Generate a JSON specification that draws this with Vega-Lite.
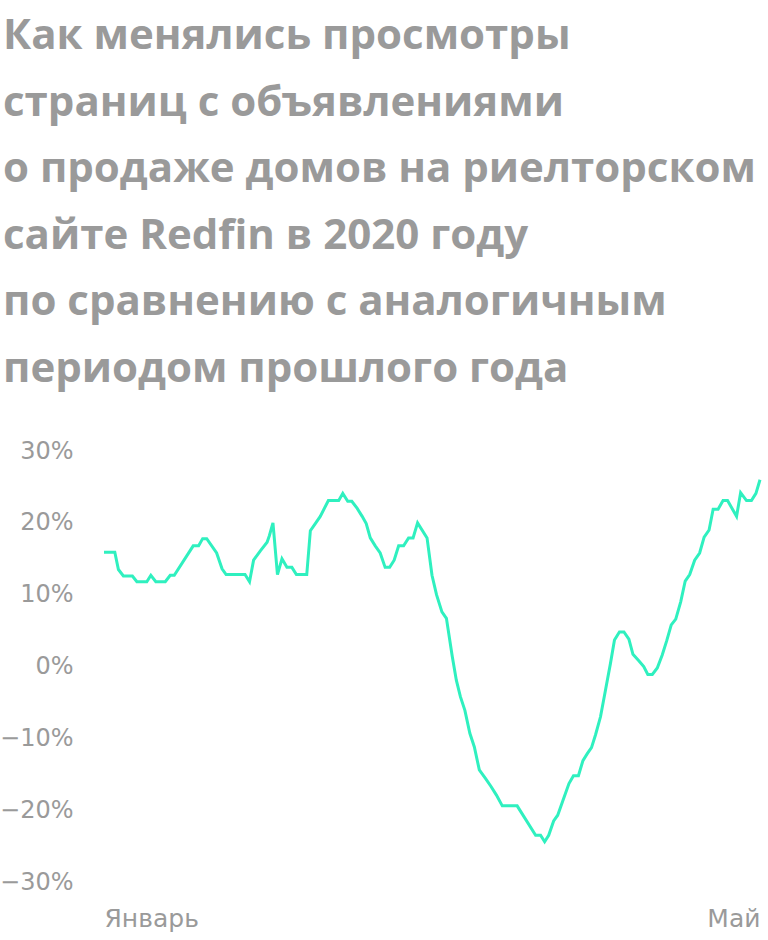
{
  "$schema": "https://vega.github.io/schema/vega-lite/v6.json",
  "autosize": {"type": "none"},
  "width": 656,
  "height": 431,
  "padding": {"left": 104, "top": 451, "right": 8, "bottom": 58},
  "background": "white",
  "config": {"view": {"stroke": null}, "font": "Open Sans"},
  "title": {
    "text": ["Как менялись просмотры", "страниц с объявлениями", "о продаже домов на риелторском", "сайте Redfin в 2020 году", "по сравнению с аналогичным", "периодом прошлого года"],
    "anchor": "start",
    "frame": "group",
    "dx": -101,
    "offset": 48,
    "lineHeight": 66.6,
    "fontSize": 42,
    "fontWeight": "bold",
    "font": "Open Sans",
    "color": "#9a9a9a"
  },
  "data": {"values": [
    {"day": 0.0, "value": 15.9},
    {"day": 2.4, "value": 15.9},
    {"day": 3.2, "value": 13.5},
    {"day": 4.3, "value": 12.6},
    {"day": 6.3, "value": 12.6},
    {"day": 7.3, "value": 11.8},
    {"day": 9.5, "value": 11.8},
    {"day": 10.4, "value": 12.7},
    {"day": 11.5, "value": 11.8},
    {"day": 13.6, "value": 11.8},
    {"day": 14.7, "value": 12.7},
    {"day": 15.6, "value": 12.7},
    {"day": 19.8, "value": 16.8},
    {"day": 21.0, "value": 16.8},
    {"day": 21.9, "value": 17.8},
    {"day": 22.8, "value": 17.8},
    {"day": 25.0, "value": 15.8},
    {"day": 26.2, "value": 13.6},
    {"day": 27.1, "value": 12.8},
    {"day": 31.3, "value": 12.8},
    {"day": 32.3, "value": 11.8},
    {"day": 33.2, "value": 14.8},
    {"day": 34.7, "value": 16.1},
    {"day": 36.2, "value": 17.3},
    {"day": 36.7, "value": 18.2},
    {"day": 37.5, "value": 20.0},
    {"day": 38.5, "value": 12.8},
    {"day": 39.5, "value": 15.0},
    {"day": 40.6, "value": 13.8},
    {"day": 41.7, "value": 13.8},
    {"day": 42.7, "value": 12.8},
    {"day": 45.0, "value": 12.8},
    {"day": 45.8, "value": 18.9},
    {"day": 46.9, "value": 19.9},
    {"day": 48.0, "value": 20.9},
    {"day": 49.8, "value": 23.1},
    {"day": 52.1, "value": 23.1},
    {"day": 53.0, "value": 24.1},
    {"day": 54.1, "value": 23.0},
    {"day": 55.0, "value": 23.0},
    {"day": 56.2, "value": 22.0},
    {"day": 57.3, "value": 20.9},
    {"day": 58.2, "value": 19.9},
    {"day": 59.1, "value": 17.9},
    {"day": 60.2, "value": 16.8},
    {"day": 61.3, "value": 15.8},
    {"day": 62.4, "value": 13.8},
    {"day": 63.4, "value": 13.8},
    {"day": 64.4, "value": 14.8},
    {"day": 65.4, "value": 16.8},
    {"day": 66.5, "value": 16.8},
    {"day": 67.6, "value": 17.9},
    {"day": 68.6, "value": 17.9},
    {"day": 69.6, "value": 20.0},
    {"day": 71.7, "value": 17.9},
    {"day": 72.8, "value": 12.7},
    {"day": 73.8, "value": 10.0},
    {"day": 75.0, "value": 7.6},
    {"day": 76.0, "value": 6.7},
    {"day": 77.3, "value": 1.4},
    {"day": 78.2, "value": -1.9},
    {"day": 79.1, "value": -4.2},
    {"day": 80.1, "value": -6.1},
    {"day": 81.2, "value": -9.3},
    {"day": 82.2, "value": -11.2},
    {"day": 83.3, "value": -14.4},
    {"day": 84.7, "value": -15.6},
    {"day": 85.9, "value": -16.7},
    {"day": 87.1, "value": -17.9},
    {"day": 88.4, "value": -19.4},
    {"day": 91.7, "value": -19.4},
    {"day": 95.8, "value": -23.5},
    {"day": 96.9, "value": -23.5},
    {"day": 97.8, "value": -24.4},
    {"day": 98.7, "value": -23.5},
    {"day": 99.8, "value": -21.5},
    {"day": 100.7, "value": -20.7},
    {"day": 101.9, "value": -18.6},
    {"day": 103.2, "value": -16.3},
    {"day": 104.2, "value": -15.2},
    {"day": 105.3, "value": -15.2},
    {"day": 106.3, "value": -13.1},
    {"day": 107.3, "value": -12.1},
    {"day": 108.2, "value": -11.3},
    {"day": 109.1, "value": -9.5},
    {"day": 110.2, "value": -7.0},
    {"day": 111.3, "value": -3.3},
    {"day": 112.4, "value": 0.4},
    {"day": 113.3, "value": 3.7},
    {"day": 114.4, "value": 4.8},
    {"day": 115.4, "value": 4.8},
    {"day": 116.5, "value": 3.8},
    {"day": 117.4, "value": 1.7},
    {"day": 118.7, "value": 0.8},
    {"day": 119.8, "value": 0.0},
    {"day": 120.7, "value": -1.1},
    {"day": 121.7, "value": -1.1},
    {"day": 122.8, "value": -0.2},
    {"day": 123.9, "value": 1.6},
    {"day": 124.9, "value": 3.6},
    {"day": 125.9, "value": 5.8},
    {"day": 126.9, "value": 6.6},
    {"day": 128.0, "value": 9.0},
    {"day": 129.0, "value": 11.9},
    {"day": 130.0, "value": 12.8},
    {"day": 131.1, "value": 14.8},
    {"day": 132.2, "value": 15.8},
    {"day": 133.2, "value": 18.0},
    {"day": 134.3, "value": 19.0},
    {"day": 135.2, "value": 21.9},
    {"day": 136.3, "value": 21.9},
    {"day": 137.4, "value": 23.1},
    {"day": 138.4, "value": 23.1},
    {"day": 140.4, "value": 20.9},
    {"day": 141.3, "value": 24.2},
    {"day": 142.6, "value": 23.1},
    {"day": 143.7, "value": 23.1},
    {"day": 144.7, "value": 24.1},
    {"day": 145.6, "value": 26.0}
  ]},
  "mark": {"type": "line", "color": "#2ff0bf", "strokeWidth": 3, "strokeJoin": "miter"},
  "encoding": {
    "x": {
      "field": "day",
      "type": "quantitative",
      "scale": {"domain": [0, 145.6], "nice": false, "zero": false},
      "axis": {
        "title": null,
        "grid": false,
        "domain": false,
        "ticks": false,
        "values": [0, 145.6],
        "labelExpr": "datum.value < 1 ? 'Январь' : 'Май'",
        "labelFlush": true,
        "labelPadding": 24,
        "labelFontSize": 25,
        "labelColor": "#9a9a9a",
        "labelFont": "DejaVu Sans"
      }
    },
    "y": {
      "field": "value",
      "type": "quantitative",
      "scale": {"domain": [-30, 30], "nice": false},
      "axis": {
        "title": null,
        "grid": false,
        "domain": false,
        "ticks": false,
        "values": [-30, -20, -10, 0, 10, 20, 30],
        "labelExpr": "(datum.value < 0 ? '−' : '') + abs(datum.value) + '%'",
        "labelPadding": 31,
        "labelFontSize": 24,
        "labelColor": "#9a9a9a",
        "labelFont": "DejaVu Sans"
      }
    }
  }
}
